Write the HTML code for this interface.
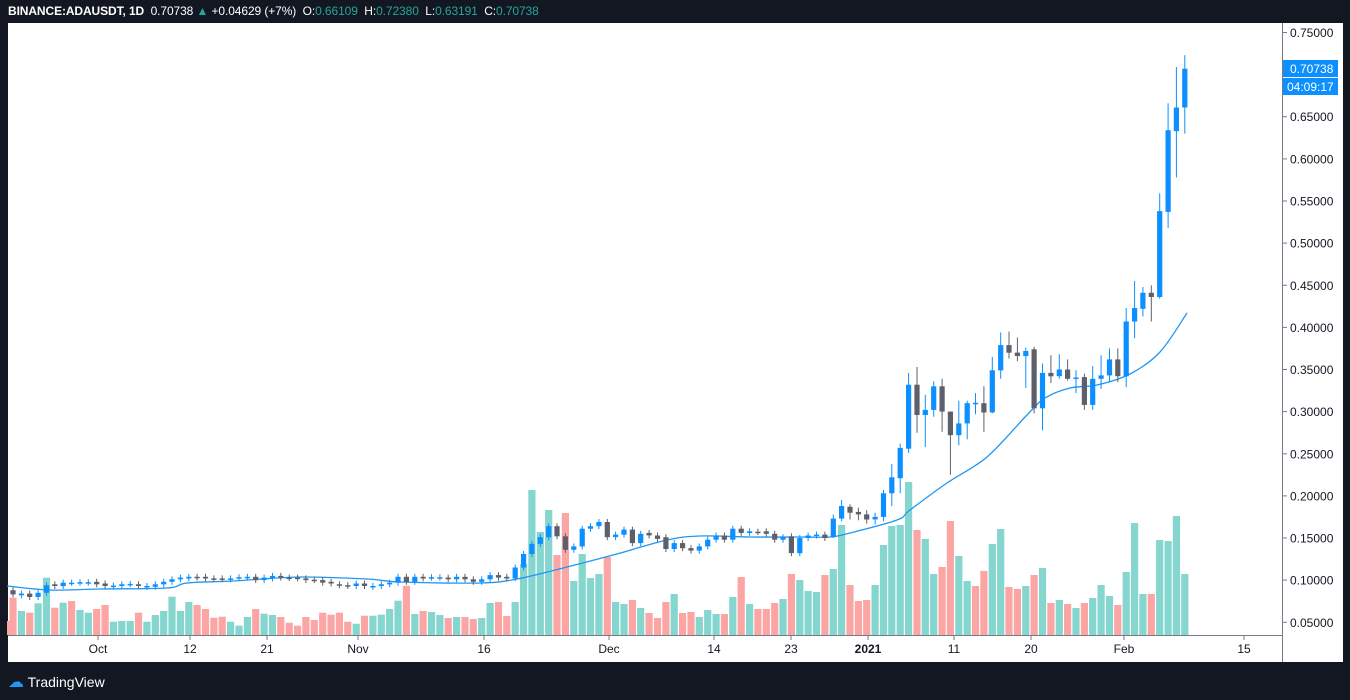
<!DOCTYPE html>
<html><head><meta charset="utf-8">
<style>
html,body{margin:0;padding:0;background:#131722;width:1350px;height:700px;overflow:hidden;font-family:"Liberation Sans",sans-serif;}
#hdr{position:absolute;left:8px;top:4px;font-size:12px;color:#fff;white-space:nowrap;letter-spacing:-0.1px;}
#hdr b{font-weight:bold}
#hdr .g{color:#26a69a}
#logo{position:absolute;left:8px;top:672px;color:#fff;font-size:14px;}
svg{position:absolute;left:0;top:0}
</style></head><body>
<div id="hdr"><b>BINANCE:ADAUSDT, 1D</b>&nbsp; 0.70738 <span class="g">▲</span> +0.04629 (+7%) &nbsp;O:<span class="g">0.66109</span> &nbsp;H:<span class="g">0.72380</span> &nbsp;L:<span class="g">0.63191</span> &nbsp;C:<span class="g">0.70738</span></div>
<svg id="c" width="1350" height="700" xmlns="http://www.w3.org/2000/svg"></svg>
<div id="logo"><span style="color:#2196f3;font-size:16px">☁</span> TradingView</div>
<script>
const svg=document.getElementById('c');
let h='';
h+='<rect x="8" y="23" width="1335" height="639" fill="#fff"/>';
const X=i=>13+8.37*i, Y=p=>32.5+(0.75-p)*842.5;
const vol=[];
const z3=[[113,'r'],[153,'t'],[158,'r'],[130,'t'],[53,'t'],[143,'r'],[128,'t'],[123,'r'],[150,'t'],[158,'t'],[147,'r'],[135,'r'],[185,'t'],[183,'t'],[183,'t'],[158,'r'],[185,'t'],[165,'t'],[153,'t'],[110,'t'],[153,'t'],[126,'t'],[135,'r'],[147,'r'],[173,'r'],[170,'r'],[185,'t'],[197,'t'],[171,'t'],[147,'r'],[161,'t'],[165,'t'],[171,'r'],[188,'r'],[197,'r'],[171,'r'],[180,'r'],[158,'r'],[164,'r'],[158,'r'],[185,'r'],[191,'t'],[167,'r'],[167,'t'],[164,'t'],[147,'t'],[122,'t'],[77,'r']];
z3.forEach(v=>vol.push([560+v[0]/3,v[1]]));
const z4=[[432,'t'],[423,'r'],[426,'t'],[435,'t'],[444,'r'],[441,'t'],[441,'r'],[447,'r'],[444,'t'],[399,'t'],[396,'r'],[438,'r'],[396,'t'],[282,'t'],[60,'t'],[186,'t'],[120,'t'],[255,'r'],[129,'r'],[333,'t'],[252,'t'],[324,'t'],[312,'t'],[261,'r'],[396,'t'],[402,'t'],[390,'r'],[414,'t'],[429,'r'],[444,'r'],[396,'r'],[372,'t'],[429,'r'],[426,'r'],[441,'t'],[420,'t'],[432,'t'],[432,'r'],[381,'t'],[321,'r'],[402,'t'],[417,'r'],[417,'r'],[399,'r'],[387,'t'],[312,'r'],[330,'t'],[363,'t'],[366,'t'],[315,'r'],[297,'t'],[165,'t']];
z4.forEach(v=>vol.push([470+v[0]/3,v[1]]));
const z5=[[765,'r'],[813,'r'],[810,'r'],[765,'t'],[645,'t'],[588,'t'],[585,'t'],[456,'t'],[600,'r'],[627,'t'],[732,'t'],[711,'r'],[573,'r'],[678,'t'],[753,'t'],[768,'r'],[723,'r'],[642,'t'],[597,'t'],[771,'r'],[777,'r'],[768,'t'],[735,'r'],[714,'t'],[819,'r'],[810,'t'],[822,'r'],[834,'t'],[819,'r'],[804,'t'],[765,'t'],[798,'t'],[825,'r'],[726,'t'],[579,'t']];
z5.forEach(v=>vol.push([330+v[0]/3,v[1]]));
[[594,'t'],[594,'r'],[540,'t'],[541,'t'],[516,'t'],[574,'t']].forEach(v=>vol.push(v));
const col={t:'#84d6ce',r:'#fca5a5'};
h+='<rect x="7" y="621" width="5" height="14" fill="#fca5a5"/>';
vol.forEach((v,i)=>{const x=X(i);h+=`<rect x="${(x-3.6).toFixed(1)}" y="${v[0].toFixed(1)}" width="7.2" height="${(635-v[0]).toFixed(1)}" fill="${col[v[1]]}"/>`;});
// EMA line smooth (catmull-rom)
const ema=[[7,586],[50,590],[100,589],[167,588],[187,583],[233,581],[300,577],[367,579],[400,582],[480,583],[517,579],[567,567],[613,555],[667,540],[700,536],[750,537],[800,537],[830,537],[850,533],[897,520],[910,510],[947,483],[987,457],[1027,415],[1045,398],[1070,388],[1097,385],[1130,374],[1160,352],[1187,313]];
let d='M'+ema[0].join(',');
for(let i=0;i<ema.length-1;i++){const p0=ema[Math.max(0,i-1)],p1=ema[i],p2=ema[i+1],p3=ema[Math.min(ema.length-1,i+2)];
 const c1=[p1[0]+(p2[0]-p0[0])/6,p1[1]+(p2[1]-p0[1])/6],c2=[p2[0]-(p3[0]-p1[0])/6,p2[1]-(p3[1]-p1[1])/6];
 d+=` C${c1[0].toFixed(1)},${c1[1].toFixed(1)} ${c2[0].toFixed(1)},${c2[1].toFixed(1)} ${p2[0]},${p2[1]}`;}
h+=`<path d="${d}" fill="none" stroke="#2196f3" stroke-width="1.3" stroke-linejoin="round"/>`;
const C=[[.088,.083],[.082,.084],[.084,.080],[.080,.085],[.085,.094],[.095,.093],[.093,.097],[.097,.097],[.097,.0975],[.097,.0975],[.098,.095],[.096,.093],[.093,.0935],[.093,.095],[.095,.0955],[.095,.093],[.092,.093],[.092,.095],[.095,.098],[.098,.101],[.101,.103],[.102,.104],[.104,.103],[.104,.102],[.102,.1015],[.102,.101],[.101,.102],[.103,.1035],[.103,.104],[.104,.100],[.100,.103],[.102,.105],[.105,.103],[.103,.1025],[.103,.102],[.102,.100],[.1005,.100],[.100,.097],[.098,.096],[.095,.094],[.094,.093],[.093,.096],[.096,.093],[.092,.093],[.093,.095],[.095,.097],[.097,.104],[.104,.098],[.098,.104],[.104,.102],[.103,.1035],[.103,.1035],[.103,.101],[.101,.104],[.104,.101],[.101,.098],[.098,.101],[.101,.106],[.106,.103],[.104,.102],[.102,.115],[.115,.131],[.131,.143],[.143,.151],[.151,.164],[.164,.152],[.152,.136],[.136,.140],[.140,.161],[.161,.164],[.164,.169],[.169,.151],[.151,.154],[.154,.160],[.160,.144],[.144,.155],[.156,.153],[.153,.149],[.151,.137],[.137,.144],[.144,.138],[.138,.135],[.135,.140],[.140,.148],[.148,.153],[.153,.148],[.148,.161],[.161,.156],[.156,.158],[.1575,.157],[.158,.155],[.155,.148],[.148,.151],[.152,.132],[.132,.150],[.150,.153],[.153,.154],[.154,.150],[.151,.173,.178,.150],[.173,.188,.195,.170],[.187,.180,.19,.172],[.181,.178,.186,.171],[.178,.172,.183,.167],[.172,.175,.18,.166],[.175,.203,.207,.170],[.203,.222,.238,.188],[.221,.257,.262,.203],[.256,.332,.346,.251],[.332,.296,.353,.275],[.296,.302,.32,.258],[.302,.33,.336,.294],[.33,.30,.339,.276],[.30,.272,.30,.225],[.272,.286,.313,.26],[.286,.31,.313,.267],[.31,.3105,.322,.297],[.31,.299,.33,.276],[.299,.349,.365,.298],[.349,.379,.394,.339],[.379,.37,.395,.363],[.37,.366,.388,.36],[.366,.372,.376,.328],[.374,.304,.377,.298],[.304,.346,.357,.278],[.346,.342,.367,.334],[.342,.35,.368,.339],[.35,.339,.362,.337],[.339,.3405,.349,.322],[.341,.308,.345,.302],[.308,.339,.354,.302],[.339,.343,.367,.327],[.343,.362,.375,.335],[.362,.342,.375,.335],[.342,.407,.423,.329],[.407,.423,.455,.387],[.422,.441,.448,.413],[.441,.436,.45,.407],[.436,.538,.559,.434],[.537,.634,.666,.518],[.633,.661,.709,.578],[.661,.707,.723,.63]];
C.forEach((c,i)=>{const [o,cl]=c;const up=cl>=o;const color=up?'#0c8fff':'#5d606b';
 const top=Y(Math.max(o,cl)),bot=Y(Math.min(o,cl));
 const hi=c[2]!==undefined?Y(c[2]):top-3, lo=c[3]!==undefined?Y(c[3]):bot+3;
 const x=X(i);
 h+=`<line x1="${x.toFixed(1)}" x2="${x.toFixed(1)}" y1="${hi.toFixed(1)}" y2="${lo.toFixed(1)}" stroke="${color}" stroke-width="1"/>`;
 h+=`<rect x="${(x-2.6).toFixed(1)}" y="${top.toFixed(1)}" width="5.2" height="${Math.max(1.5,bot-top).toFixed(1)}" fill="${color}"/>`;
});
h+='<line x1="8" x2="1282" y1="635.5" y2="635.5" stroke="#787b86" stroke-width="1"/>';
h+='<line x1="1282.5" x2="1282.5" y1="23" y2="662" stroke="#787b86" stroke-width="1"/>';
for(let k=0;k<=14;k++){const p=0.75-k*0.05;const y=Y(p);
 h+=`<line x1="1283" x2="1287" y1="${y.toFixed(1)}" y2="${y.toFixed(1)}" stroke="#787b86"/>`;
 h+=`<text x="1290" y="${(y+4.5).toFixed(1)}" font-size="12" fill="#131722" font-family="Liberation Sans">${p.toFixed(5)}</text>`;}
const tl=[['Oct',98],['12',190],['21',267],['Nov',358],['16',484],['Dec',609],['14',714],['23',791],['2021',868],['11',954],['20',1031],['Feb',1124],['15',1244]];
tl.forEach(t=>{h+=`<line x1="${t[1]}" x2="${t[1]}" y1="636" y2="640" stroke="#787b86"/>`;
 h+=`<text x="${t[1]}" y="653" text-anchor="middle" font-size="12" fill="#131722" font-family="Liberation Sans"${t[0]=='2021'?' font-weight="bold"':''}>${t[0]}</text>`;});
h+='<rect x="1283" y="60" width="55" height="17" fill="#0c8fff"/><rect x="1283" y="78" width="55" height="17" fill="#0c8fff"/>';
h+='<line x1="1283" x2="1338" y1="77.5" y2="77.5" stroke="#fff"/>';
h+='<text x="1290" y="73" font-size="12" fill="#fff" font-family="Liberation Sans">0.70738</text>';
h+='<text x="1287" y="91" font-size="12" fill="#fff" font-family="Liberation Sans">04:09:17</text>';
svg.innerHTML=h;
</script>
</body></html>
